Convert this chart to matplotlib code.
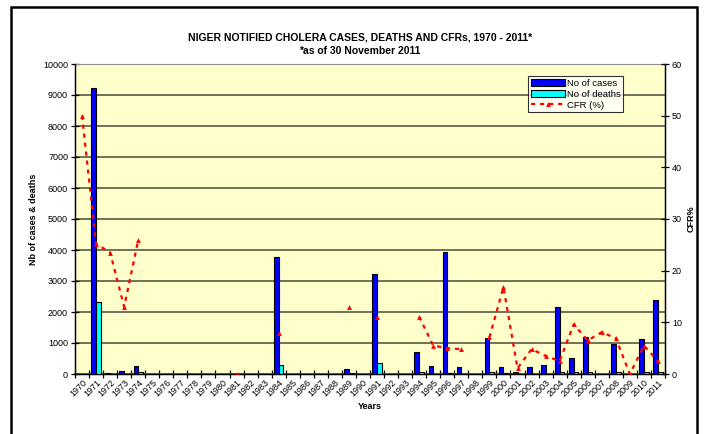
import numpy as np
import matplotlib
matplotlib.use("Agg")
import matplotlib.pyplot as plt
from matplotlib.patches import Rectangle
from matplotlib.lines import Line2D

plt.rcParams.update({"font.family": ["Liberation Sans", "DejaVu Sans"],
                     "lines.scale_dashes": False})

nan = np.nan
years = list(range(1970, 2012))
cases = [4, 9230, 45, 97, 270, nan, nan, nan, nan, nan,
         nan, 8, nan, nan, 3760, nan, nan, nan, nan, 150,
         nan, 3220, nan, nan, 720, 250, 3930, 240, nan, 1150,
         230, 70, 215, 280, 2150, 530, 1185, 12, 960, 3,
         1130, 2390]
deaths = [2, 2320, 10, 13, 70, nan, nan, nan, nan, nan,
          nan, 0, nan, nan, 290, nan, nan, nan, nan, 20,
          nan, 355, nan, nan, 70, 14, 40, 11, nan, 80,
          40, 1, 10, 10, 55, 50, 77, 1, 66, 0,
          62, 60]
cfr = [50, 25.2, 23.5, 13.0, 25.9, nan, nan, nan, nan, nan,
       nan, 0, nan, nan, 7.9, nan, nan, nan, nan, 13.0,
       nan, 11.1, nan, nan, 11.1, 5.5, 5.0, 4.8, nan, 7.1,
       16.8, 1.1, 4.8, 3.5, 2.5, 9.6, 6.5, 8.1, 6.9, 0,
       5.5, 2.5]

W, H = 705, 434
fig = plt.figure(figsize=(W / 100, H / 100), dpi=100)

# outer chart frame
fig.patches.append(Rectangle((11 / W, -0.05), (697 - 11) / W, 1.05 - 7 / H,
                             transform=fig.transFigure, fill=False,
                             edgecolor="black", lw=1.8))

ax = fig.add_axes([75 / W, (H - 374) / H, (665 - 75) / W, (374 - 64) / H])
ax.set_facecolor("#FFFFCC")
x = np.arange(len(years))
bw = 0.335
ax.bar(x - bw / 2, cases, bw, color="#0000FF", edgecolor="black", lw=0.8, zorder=3)
ax.bar(x + bw / 2, deaths, bw, color="#00FFFF", edgecolor="black", lw=0.8, zorder=3)
ax.set_ylim(0, 10000)
ax.set_yticks(np.arange(0, 10001, 1000))
ax.yaxis.grid(True, color="#4a4a3c", lw=1.1, zorder=1)
ax.set_axisbelow(True)
ax.set_xlim(-0.5, len(years) - 0.5)
ax.set_xticks(np.arange(-0.5, len(years), 1))
ax.set_xticklabels([])
ax.set_xticks(x, minor=True)
ax.set_xticklabels([str(y) for y in years], minor=True, rotation=45,
                   ha="right", rotation_mode="anchor", fontsize=6.5)
ax.tick_params(axis="x", which="minor", length=0, pad=3)
ax.tick_params(axis="x", which="major", direction="inout", length=6, width=0.9)
ax.tick_params(axis="y", direction="inout", length=6, width=0.9, labelsize=6.5, pad=2)
ax.spines["top"].set_color("#909090")
ax.spines["left"].set_linewidth(1)
ax.spines["bottom"].set_linewidth(1)
ax.set_ylabel("Nb of cases & deaths", fontsize=6.5, fontweight="bold", labelpad=4)
ax.set_xlabel("Years", fontsize=6.5, fontweight="bold", labelpad=2)

ax2 = ax.twinx()
ax2.plot(x, cfr, color="red", lw=1.6, ls=(0, (3, 3.5)), marker="^", ms=3.5,
         markeredgewidth=0, zorder=5)
ax2.set_ylim(0, 60)
ax2.set_yticks(np.arange(0, 61, 10))
ax2.tick_params(axis="y", direction="inout", length=6, width=0.9, labelsize=6.5, pad=2)
ax2.spines["right"].set_linewidth(1)
ax2.spines["top"].set_visible(False)
ax2.set_ylabel("CFR%", fontsize=6.5, fontweight="bold", labelpad=3)

fig.text(360 / W, 1 - 37 / H, "NIGER NOTIFIED CHOLERA CASES, DEATHS AND CFRs, 1970 - 2011*",
         ha="center", va="center", fontsize=7.5, fontweight="bold")
fig.text(360 / W, 1 - 51 / H, "*as of 30 November 2011",
         ha="center", va="center", fontsize=7.5, fontweight="bold")

handles = [Rectangle((0, 0), 1, 1, fc="#0000FF", ec="black", lw=0.8),
           Rectangle((0, 0), 1, 1, fc="#00FFFF", ec="black", lw=0.8),
           Line2D([], [], color="red", lw=1.6, ls=(0, (3, 3.5)), marker="^",
                  ms=3.5, markeredgewidth=0)]
leg = ax2.legend(handles, ["No of cases", "No of deaths", "CFR (%)"],
                 loc="upper left", bbox_to_anchor=((528 - 75) / 590, 1 - (76 - 64) / 310),
                 fontsize=6.8, frameon=True, fancybox=False, borderpad=0.3,
                 handlelength=3.6, handletextpad=0.2, labelspacing=0.2,
                 borderaxespad=0)
leg.get_frame().set_edgecolor("black")
leg.get_frame().set_linewidth(0.8)

fig.savefig("out.png", dpi=100)
